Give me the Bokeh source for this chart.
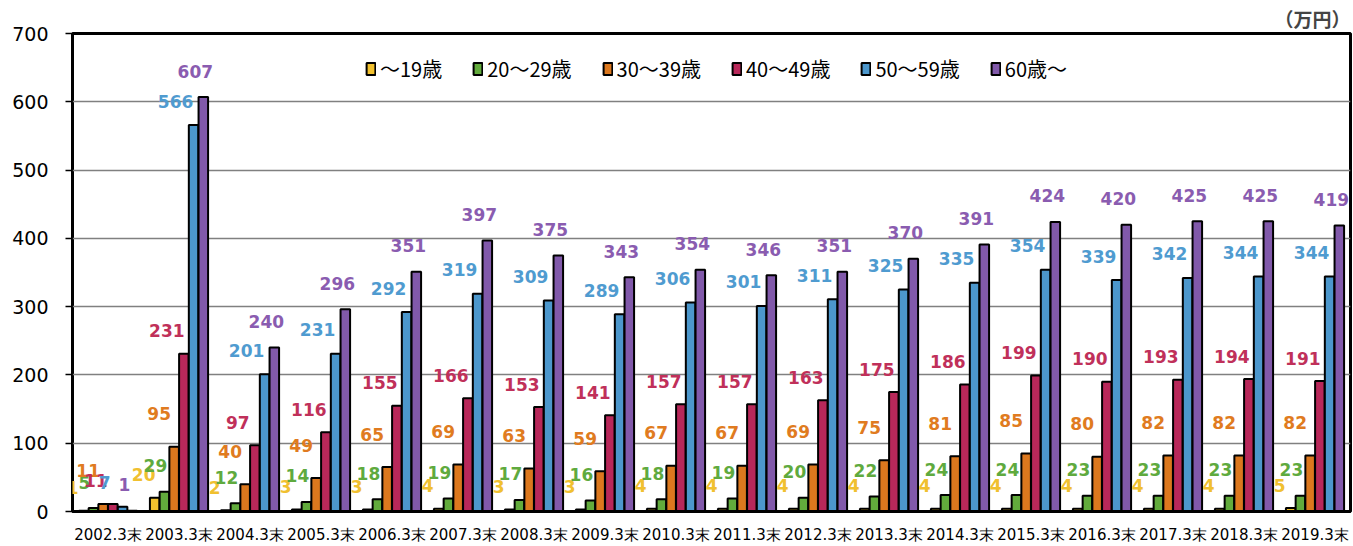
from bokeh.plotting import figure
from bokeh.models import (ColumnDataSource, FactorRange, Range1d, FixedTicker,
                          Legend, LegendItem, Title)
from bokeh.transform import dodge
from bokeh.core.properties import value
from bokeh.embed import file_html
from bokeh.resources import INLINE

years = ["2002.3末", "2003.3末", "2004.3末", "2005.3末", "2006.3末", "2007.3末",
         "2008.3末", "2009.3末", "2010.3末", "2011.3末", "2012.3末", "2013.3末",
         "2014.3末", "2015.3末", "2016.3末", "2017.3末", "2018.3末", "2019.3末"]

series_names = ["～19歳", "20～29歳", "30～39歳", "40～49歳", "50～59歳", "60歳～"]

age_under19 = [1, 20, 2, 3, 3, 4, 3, 3, 4, 4, 4, 4, 4, 4, 4, 4, 4, 5]
age_20s = [5, 29, 12, 14, 18, 19, 17, 16, 18, 19, 20, 22, 24, 24, 23, 23, 23, 23]
age_30s = [11, 95, 40, 49, 65, 69, 63, 59, 67, 67, 69, 75, 81, 85, 80, 82, 82, 82]
age_40s = [11, 231, 97, 116, 155, 166, 153, 141, 157, 157, 163, 175, 186, 199, 190, 193, 194, 191]
age_50s = [7, 566, 201, 231, 292, 319, 309, 289, 306, 301, 311, 325, 335, 354, 339, 342, 344, 344]
age_60plus = [1, 607, 240, 296, 351, 397, 375, 343, 354, 346, 351, 370, 391, 424, 420, 425, 425, 419]

y_ticks = [0, 100, 200, 300, 400, 500, 600, 700]
unit_label = "（万円）"

all_series = [age_under19, age_20s, age_30s, age_40s, age_50s, age_60plus]
bar_colors = ["#F2C12E", "#62AB3C", "#DC781E", "#B8285A", "#4C97CC", "#8159AA"]
label_colors = ["#F0C030", "#5FAA3E", "#E07B20", "#C0305A", "#4F9BD0", "#8A5CB0"]
label_dx = [-11, -9, -15, -17, -18, -8]
label_dy = [-23, -26, -33, -23, -24, -26]

p = figure(width=1353, height=546,
           x_range=FactorRange(*years, range_padding=0),
           y_range=Range1d(0, 700),
           output_backend="svg", toolbar_location=None,
           min_border_left=72, min_border_right=3,
           min_border_top=33, min_border_bottom=33)

p.add_layout(Title(text=unit_label, align="right", text_font_size="19px",
                   text_font_style="bold", text_font="Noto Sans CJK JP",
                   standoff=4, offset=0), "above")

bw = 0.137
legend_items = []
sources = []
for k, (name, vals) in enumerate(zip(series_names, all_series)):
    src = ColumnDataSource(dict(year=years, value=vals, label=[str(v) for v in vals]))
    sources.append(src)
    off = (k - 2.5) * bw
    r = p.vbar(x=dodge("year", off, range=p.x_range), top="value", width=bw * 0.98,
               source=src, fill_color=bar_colors[k], line_color="black", line_width=2)
    legend_items.append(LegendItem(label=name, renderers=[r]))

for k, src in enumerate(sources):
    off = (k - 2.5) * bw
    p.text(x=dodge("year", off, range=p.x_range), y="value", text="label", source=src,
           text_color=label_colors[k], text_font=value("DejaVu Sans"),
           text_font_style="bold", text_font_size="17px",
           text_align="center", text_baseline="middle",
           x_offset=label_dx[k], y_offset=label_dy[k])

legend = Legend(items=legend_items, orientation="horizontal", location=(293, 428),
                glyph_width=11, glyph_height=15, label_standoff=4, spacing=30,
                padding=0, margin=0, background_fill_alpha=0, border_line_color=None,
                label_text_font="Noto Sans CJK JP", label_text_font_size="20px",
                label_text_color="black")
p.add_layout(legend, "center")

p.outline_line_color = "black"
p.outline_line_width = 3
p.background_fill_color = "white"
p.border_fill_color = "white"

p.xgrid.grid_line_color = None
p.ygrid.grid_line_color = "#808080"
p.ygrid.grid_line_width = 1.5

p.yaxis.ticker = FixedTicker(ticks=y_ticks)
p.yaxis.axis_line_color = None
p.yaxis.major_tick_out = 7
p.yaxis.major_tick_in = 0
p.yaxis.minor_tick_line_color = None
p.yaxis.major_tick_line_color = "black"
p.yaxis.major_tick_line_width = 1.5
p.yaxis.major_label_standoff = 17
p.yaxis.major_label_text_font = "DejaVu Sans"
p.yaxis.major_label_text_font_size = "19px"
p.yaxis.major_label_text_color = "black"

p.xaxis.major_tick_line_color = None
p.xaxis.major_tick_out = 0
p.xaxis.major_tick_in = 0
p.xaxis.axis_line_color = "black"
p.xaxis.axis_line_width = 3
p.xaxis.major_label_standoff = 14
p.xaxis.major_label_text_font = "DejaVu Sans"
p.xaxis.major_label_text_font_size = "15px"
p.xaxis.major_label_text_color = "black"

open("out.html", "w").write(file_html(p, INLINE))
